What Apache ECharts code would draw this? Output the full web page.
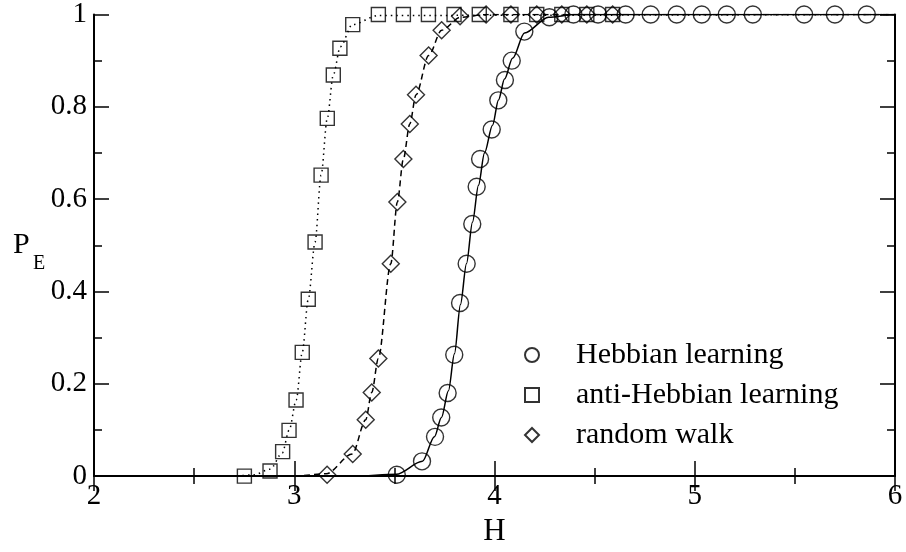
<!DOCTYPE html>
<html>
<head>
<meta charset="utf-8">
<script src="https://cdn.jsdelivr.net/npm/echarts@6/dist/echarts.min.js"></script>
<style>html,body{margin:0;padding:0;background:#fff}#c{width:906px;height:552px}</style>
</head>
<body>
<div id="c"></div>
<script>
// Marker data (H, P_E)
var hebbH = [3.512,3.638,3.703,3.734,3.766,3.799,3.828,3.861,3.889,3.911,3.928,3.986,4.019,4.052,4.086,4.149,4.274,4.394,4.517,4.655,4.780,4.910,5.035,5.160,5.290,5.546,5.700,5.859];
var hebbP = [0.003,0.032,0.085,0.127,0.180,0.263,0.375,0.460,0.546,0.627,0.687,0.751,0.814,0.858,0.900,0.963,0.994,1,1,1,1,1,1,1,1,1,1,1];
var antiH = [2.751,2.879,2.942,2.974,3.009,3.040,3.070,3.104,3.134,3.165,3.195,3.228,3.292,3.420,3.545,3.670,3.798,3.924,4.082,4.211,4.336,4.461,4.590];
var antiP = [0.000,0.011,0.053,0.099,0.165,0.268,0.383,0.507,0.652,0.775,0.869,0.927,0.978,1,1,1,1,1,1,1,1,1,1];
var rwH = [3.164,3.292,3.357,3.387,3.420,3.482,3.515,3.545,3.577,3.608,3.671,3.736,3.828,3.958,4.082,4.211,4.336,4.461,4.590];
var rwP = [0.003,0.048,0.122,0.181,0.255,0.460,0.594,0.687,0.763,0.826,0.911,0.966,0.996,1,1,1,1,1,1];

// Fitted curves, points
var hebbCurveH = [2.0,3.30,3.51,3.64,3.70,3.735,3.77,3.80,3.83,3.86,3.89,3.92,3.95,3.99,4.02,4.05,4.09,4.15,4.27,4.40,6.0];
var hebbCurveP = [0.0,0.0,0.004,0.032,0.085,0.127,0.185,0.265,0.372,0.46,0.55,0.63,0.70,0.76,0.815,0.86,0.905,0.96,0.994,1.0,1.0];
var antiCurveH = [2.0,2.70,2.80,2.88,2.94,2.975,3.01,3.04,3.07,3.104,3.134,3.165,3.195,3.23,3.29,3.42,6.0];
var antiCurveP = [0.0,0.0,0.003,0.015,0.05,0.1,0.165,0.268,0.383,0.507,0.652,0.775,0.869,0.93,0.978,0.998,1.0];
var rwCurveH = [2.0,3.00,3.16,3.29,3.357,3.387,3.42,3.482,3.515,3.545,3.577,3.608,3.671,3.736,3.83,3.96,6.0];
var rwCurveP = [0.0,0.0,0.005,0.048,0.122,0.181,0.255,0.46,0.594,0.687,0.763,0.826,0.911,0.966,0.994,1.0,1.0];

var xTicks = [2,3,4,5,6];
var yTicks = [0,0.2,0.4,0.6,0.8,1];
var names = ['Hebbian learning','anti-Hebbian learning','random walk'];

function zip(a,b){return a.map(function(v,i){return [v,b[i]];});}
function fmtY(v){ var r = +(+v).toFixed(1); return yTicks.indexOf(r)>=0 ? String(r) : ''; }

var FONT = 'Liberation Serif';
var mk = {color:'rgba(0,0,0,0)', borderColor:'#000', borderWidth:1.4};

var chart = echarts.init(document.getElementById('c'), null, {renderer:'canvas'});
var axisCommon = {
  axisLine:{show:true, lineStyle:{color:'#000', width:2}},
  axisTick:{show:true, inside:true, length:15, lineStyle:{color:'#000', width:1.5}},
  minorTick:{show:true, splitNumber:2, length:8, lineStyle:{color:'#000', width:1.5}},
  splitLine:{show:false}
};
chart.setOption({
  animation:false,
  backgroundColor:'#fff',
  grid:{left:94, right:11, top:13, bottom:65, containLabel:false},
  xAxis:[
    Object.assign({type:'value', min:2, max:6, interval:1, position:'bottom',
      axisLabel:{color:'#000', fontFamily:FONT, fontSize:29, margin:6},
      name:'H', nameLocation:'middle', nameGap:35,
      nameTextStyle:{color:'#000', fontFamily:FONT, fontSize:31}}, axisCommon),
    Object.assign({type:'value', min:2, max:6, interval:1, position:'top', axisLabel:{show:false}}, axisCommon)
  ],
  yAxis:[
    Object.assign({type:'value', min:0, max:1, interval:0.2, position:'left',
      axisLabel:{color:'#000', fontFamily:FONT, fontSize:29, margin:7, formatter:function(v){return fmtY(v);}}}, axisCommon),
    Object.assign({type:'value', min:0, max:1, interval:0.2, position:'right', axisLabel:{show:false}}, axisCommon)
  ],
  legend:{
    orient:'vertical', left:519, top:335, itemGap:10, itemWidth:14, itemHeight:14,
    data:[{name:names[0], icon:'circle'},{name:names[1], icon:'rect'},{name:names[2], icon:'diamond'}],
    textStyle:{color:'#000', fontFamily:FONT, fontSize:30, padding:[0,0,0,32]},
    selectedMode:false
  },
  graphic:[
    {type:'text', left:13, top:230, style:{text:'P', fill:'#000', font:'30px "Liberation Serif"'}},
    {type:'text', left:33, top:254, style:{text:'E', fill:'#000', font:'20px "Liberation Serif"'}}
  ],
  series:[
    {type:'line', data:zip(hebbCurveH,hebbCurveP), showSymbol:false, smooth:0.3, smoothMonotone:'x',
      lineStyle:{color:'#000', width:1.5}, silent:true, z:2},
    {type:'line', data:zip(antiCurveH,antiCurveP), showSymbol:false, smooth:0.3, smoothMonotone:'x',
      lineStyle:{color:'#000', width:1.5, type:[1.5,4]}, silent:true, z:2},
    {type:'line', data:zip(rwCurveH,rwCurveP), showSymbol:false, smooth:0.3, smoothMonotone:'x',
      lineStyle:{color:'#000', width:1.5, type:[6,4]}, silent:true, z:2},
    {name:names[0], type:'scatter', symbol:'circle', symbolSize:17, data:zip(hebbH,hebbP), itemStyle:mk, z:3},
    {name:names[1], type:'scatter', symbol:'rect', symbolSize:14, data:zip(antiH,antiP), itemStyle:mk, z:3},
    {name:names[2], type:'scatter', symbol:'diamond', symbolSize:17, data:zip(rwH,rwP), itemStyle:mk, z:3}
  ]
});
</script>
</body>
</html>
